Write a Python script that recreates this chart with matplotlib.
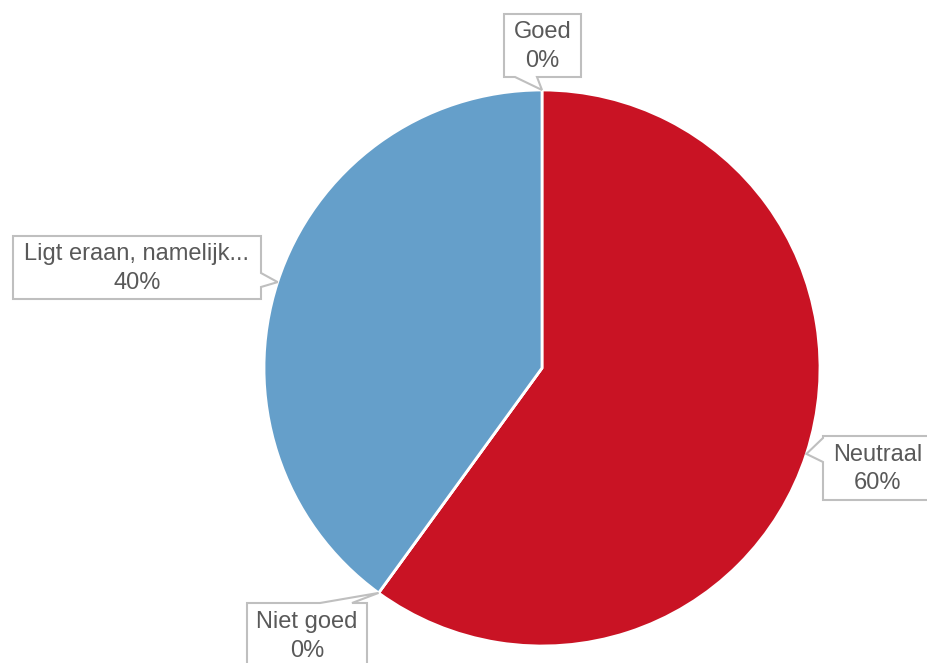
import numpy as np
import matplotlib.pyplot as plt
from matplotlib.patches import Polygon

# dados
categorias = ["Goed", "Neutraal", "Niet goed", "Ligt eraan, namelijk..."]
valores = [0, 60, 0, 40]
cores = ["#7f7f7f", "#c91324", "#7f7f7f", "#659fca"]

W, H = 927, 663
cx, cy, raio = 542, 368, 278  # pixels (imagem)

# caixas dos rótulos: (x0, y0, x1, y1) em pixels da imagem, lado do ponteiro, base do ponteiro
caixas = {
    "Goed": ((504, 14, 581, 77), "bottom", (515, 537)),
    "Neutraal": ((823, 436, 932, 500), "left", (438, 462)),
    "Niet goed": ((247, 603, 367, 668), "top", (320, 352)),
    "Ligt eraan, namelijk...": ((13, 236, 261, 299), "right", (273, 287)),
}

fig = plt.figure(figsize=(W / 100, H / 100), dpi=100)
ax = fig.add_axes([0, 0, 1, 1])

ax.pie(valores, colors=cores, startangle=90, counterclock=False,
       center=(cx, H - cy), radius=raio,
       wedgeprops=dict(edgecolor="white", linewidth=2))

# ângulos médios de cada fatia -> ponta do ponteiro
total = sum(valores)
ang = 90.0
for cat, v in zip(categorias, valores):
    meio = ang - 360.0 * v / total / 2
    ang -= 360.0 * v / total
    tx = cx + raio * np.cos(np.radians(meio))
    ty = cy - raio * np.sin(np.radians(meio))

    (x0, y0, x1, y1), lado, (b0, b1) = caixas[cat]
    if lado == "bottom":
        pts = [(x0, y0), (x1, y0), (x1, y1), (b1, y1), (tx, ty), (b0, y1), (x0, y1)]
    elif lado == "top":
        pts = [(x0, y0), (b0, y0), (tx, ty), (b1, y0), (x1, y0), (x1, y1), (x0, y1)]
    elif lado == "left":
        pts = [(x0, y0), (x1, y0), (x1, y1), (x0, y1), (x0, b1), (tx, ty), (x0, b0)]
    else:
        pts = [(x0, y0), (x1, y0), (x1, b0), (tx, ty), (x1, b1), (x1, y1), (x0, y1)]
    pts = [(px, H - py) for px, py in pts]
    ax.add_patch(Polygon(pts, closed=True, facecolor="white",
                         edgecolor="#bfbfbf", linewidth=1.5, zorder=5))
    ax.text((x0 + x1) / 2, H - (y0 + y1) / 2 - 1, f"{cat}\n{v}%",
            ha="center", va="center", fontsize=17, color="#595959",
            family="Liberation Sans", linespacing=1.38, zorder=6)

ax.set_xlim(0, W)
ax.set_ylim(0, H)
ax.set_aspect("auto")
ax.set_axis_off()

fig.savefig("out.png", dpi=100)
